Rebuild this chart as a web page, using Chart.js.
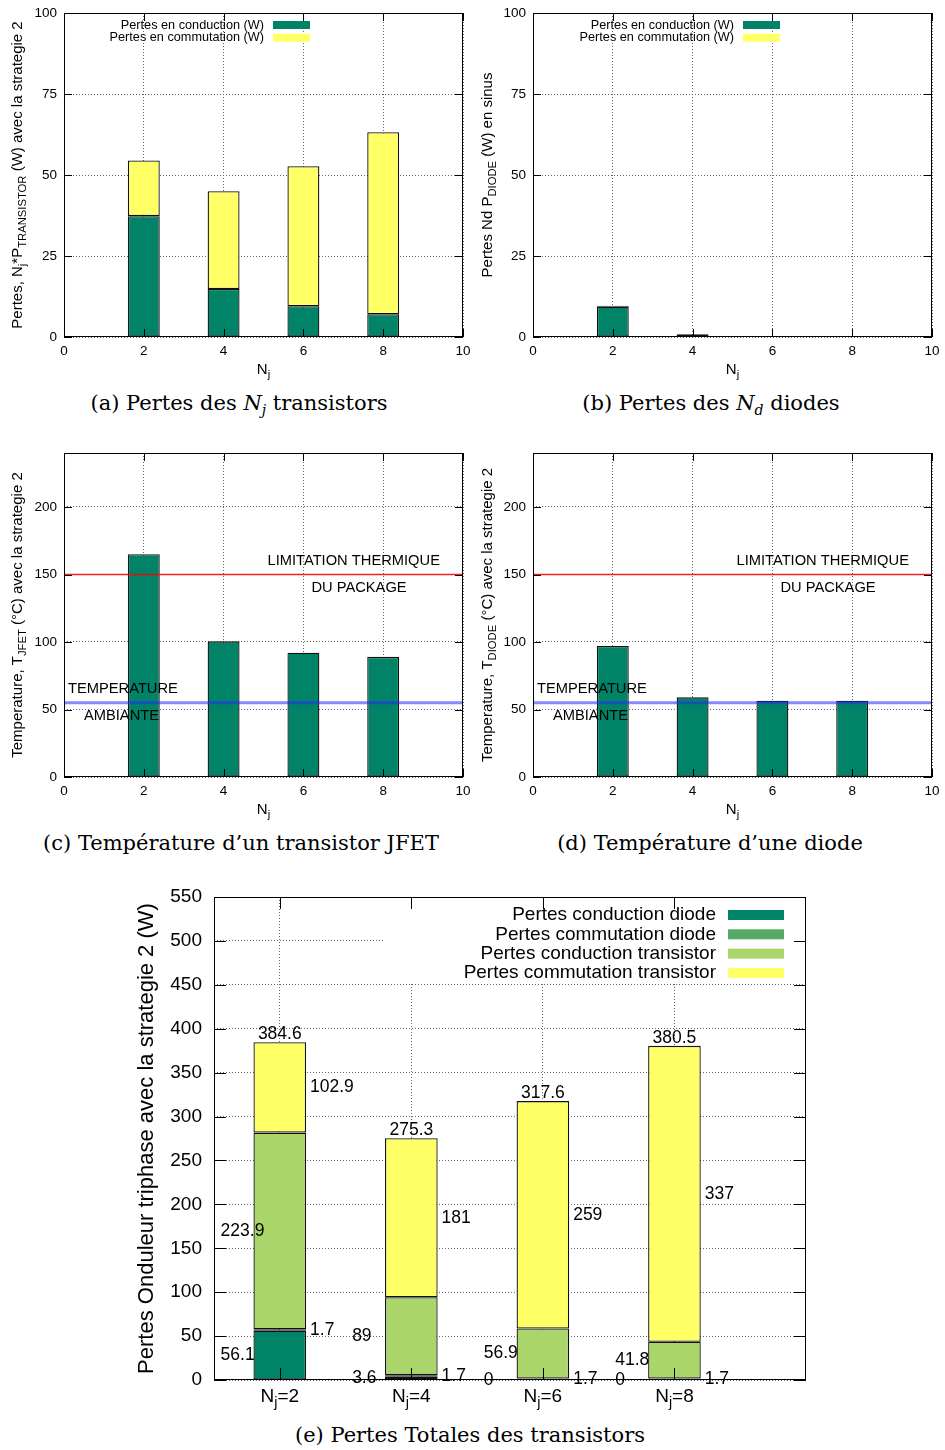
<!DOCTYPE html>
<html lang="fr">
<head>
<meta charset="UTF-8">
<title>Pertes et températures - stratégie 2</title>
<script src="https://cdn.jsdelivr.net/npm/chart.js@4.4.1/dist/chart.umd.min.js"></script>
<style>
  body { margin: 0; background: #fff; }
  #page { position: relative; width: 945px; height: 1450px; background: #fff; }
  canvas { position: absolute; }
  .legende {
    position: absolute;
    font-family: "DejaVu Serif", "Liberation Serif", serif;
    font-size: 21px;
    color: #000;
    white-space: nowrap;
    transform: translateX(-50%);
  }
  .legende sub { font-size: 14px; }
</style>
</head>
<body>
<div id="page">
  <canvas id="gA" width="470" height="390" style="left:0;top:0"></canvas>
  <canvas id="gB" width="470" height="390" style="left:470px;top:0"></canvas>
  <canvas id="gC" width="470" height="390" style="left:0;top:440px"></canvas>
  <canvas id="gD" width="470" height="390" style="left:470px;top:440px"></canvas>
  <canvas id="gE" width="945" height="540" style="left:0;top:880px"></canvas>

  <div class="legende" style="left:239px;top:391px">(a) Pertes des <i>N<sub>j</sub></i> transistors</div>
  <div class="legende" style="left:711px;top:391px">(b) Pertes des <i>N<sub>d</sub></i> diodes</div>
  <div class="legende" style="left:241px;top:831px">(c) Température d’un transistor JFET</div>
  <div class="legende" style="left:710px;top:831px">(d) Température d’une diode</div>
  <div class="legende" style="left:470px;top:1423px">(e) Pertes Totales des transistors</div>
</div>

<script>
  // Valeurs
  const nj = [2, 4, 6, 8];

  // (a) pertes des Nj transistors (W)
  const transCond = [37.3, 14.8, 9.5, 7.0];
  const transComm = [17.2, 30.2, 43.2, 56.2];

  // (b) pertes des Nd diodes (W)
  const diodeCond = [9.35, 0.6, 0, 0];
  const diodeComm = [0.28, 0.28, 0.28, 0.28];

  // (c) et (d) températures (°C)
  const tempJfet = [165, 100.5, 92, 89];
  const tempDiode = [97, 59, 56.5, 56.5];
  const tempLimite = 150;
  const tempAmbiante = 55;

  // (e) pertes totales de l'onduleur (W)
  const totCondDiode = [56.1, 3.6, 0, 0];
  const totCommDiode = [1.7, 1.7, 1.7, 1.7];
  const totCondTrans = [223.9, 89, 56.9, 41.8];
  const totCommTrans = [102.9, 181, 259, 337];
  const totTotal = [384.6, 275.3, 317.6, 380.5];

  const FONT = '"Liberation Sans", Arial, sans-serif';
  const VERT_FONCE = '#008366';
  const VERT_MOYEN = '#55AA66';
  const VERT_CLAIR = '#AAD56A';
  const JAUNE = '#FFFF66';

  // texte avec indices (k = 1 indice, 0 normal)
  function drawRich(ctx, parts, x, y, size, align) {
    const fontOf = k => `${k ? size * 0.75 : size}px ${FONT}`;
    const widths = parts.map(([t, k]) => { ctx.font = fontOf(k); return ctx.measureText(t).width; });
    const total = widths.reduce((a, b) => a + b, 0);
    let cx = align === 'center' ? x - total / 2 : align === 'right' ? x - total : x;
    ctx.textAlign = 'left';
    ctx.textBaseline = 'middle';
    ctx.fillStyle = '#000';
    parts.forEach(([t, k], i) => {
      ctx.font = fontOf(k);
      ctx.fillText(t, cx, y + k * size * 0.32);
      cx += widths[i];
    });
  }

  function line(ctx, x1, y1, x2, y2) {
    ctx.beginPath();
    ctx.moveTo(x1, y1);
    ctx.lineTo(x2, y2);
    ctx.stroke();
  }

  // cadre, graduations internes, titres, légende façon gnuplot
  function cadreGnuplot(cfg) {
    return {
      id: 'cadreGnuplot',
      afterDraw(chart) {
        const { ctx, chartArea: a, scales } = chart;
        const sx = scales.x, sy = scales.y;
        ctx.save();

        (cfg.refLines || []).forEach(r => {
          const py = sy.getPixelForValue(r.value);
          ctx.strokeStyle = r.color;
          ctx.lineWidth = r.width;
          line(ctx, a.left, py, a.right, py);
        });

        (cfg.notes || []).forEach(n => {
          ctx.font = `${cfg.noteSize}px ${FONT}`;
          ctx.fillStyle = '#000';
          ctx.textAlign = 'left';
          ctx.textBaseline = 'middle';
          ctx.fillText(n.text, sx.getPixelForValue(n.x), sy.getPixelForValue(n.y));
        });

        // étiquettes de valeurs (e)
        if (cfg.valueLabels) {
          ctx.font = `${cfg.valueSize}px ${FONT}`;
          ctx.fillStyle = '#000';
          ctx.textAlign = 'left';
          ctx.textBaseline = 'middle';
          const cumul = chart.data.datasets[0].data.map(() => 0);
          chart.data.datasets.forEach(ds => {
            ds.data.forEach((p, i) => {
              const mid = cumul[i] + p.y / 2;
              cumul[i] += p.y;
              const dx = ds.labelSide === 'left' ? -0.45 : 0.23;
              ctx.fillText(String(p.y), sx.getPixelForValue(p.x + dx), sy.getPixelForValue(mid));
            });
          });
          ctx.textAlign = 'center';
          ctx.textBaseline = 'bottom';
          cfg.totals.forEach((v, i) => {
            ctx.fillText(v.toFixed(1), sx.getPixelForValue(i), sy.getPixelForValue(v) + 1);
          });
        }

        // légende
        const L = cfg.legend;
        if (L) {
          if (L.box) {
            ctx.fillStyle = '#fff';
            ctx.fillRect(L.box[0], L.box[1], L.box[2], L.box[3]);
          }
          chart.data.datasets.forEach((ds, i) => {
            const yy = L.y + i * L.dy;
            ctx.font = `${L.size}px ${FONT}`;
            ctx.fillStyle = '#000';
            ctx.textAlign = 'right';
            ctx.textBaseline = 'middle';
            ctx.fillText(ds.label, L.textRight, yy);
            ctx.fillStyle = ds.backgroundColor;
            ctx.fillRect(L.swatchLeft, yy - L.swatchH / 2, L.swatchW, L.swatchH);
          });
        }

        // graduations internes
        ctx.strokeStyle = '#000';
        ctx.lineWidth = 1;
        const tl = cfg.tickLen;
        sy.ticks.forEach(t => {
          const py = Math.round(sy.getPixelForValue(t.value)) + 0.5;
          line(ctx, a.left, py, a.left + tl, py);
          line(ctx, a.right, py, a.right - tl, py);
        });
        sx.ticks.forEach(t => {
          const px = Math.round(sx.getPixelForValue(t.value)) + 0.5;
          line(ctx, px, a.bottom, px, a.bottom - tl);
          line(ctx, px, a.top, px, a.top + tl);
        });
        ctx.strokeRect(Math.round(a.left) + 0.5, Math.round(a.top) + 0.5,
          Math.round(a.width) - 1, Math.round(a.height) - 1);

        // étiquettes Nj=.. de (e)
        if (cfg.njTicks) {
          nj.forEach((n, i) => {
            drawRich(ctx, [['N', 0], ['j', 1], ['=' + n, 0]], sx.getPixelForValue(i), a.bottom + 17, cfg.tickSize, 'center');
          });
        }

        // titres d'axes
        ctx.save();
        ctx.translate(cfg.yTitleX, (a.top + a.bottom) / 2);
        ctx.rotate(-Math.PI / 2);
        drawRich(ctx, cfg.yTitle, 0, 0, cfg.titleSize, 'center');
        ctx.restore();
        if (cfg.xTitle) {
          drawRich(ctx, cfg.xTitle, (a.left + a.right) / 2, a.bottom + 33, cfg.titleSize, 'center');
        }
        ctx.restore();
      }
    };
  }

  function echelles(o) {
    return {
      x: {
        type: 'linear',
        offset: false,
        min: o.xMin, max: o.xMax,
        stacked: true,
        afterFit: s => { s.height = o.xH; s.paddingLeft = 0; s.paddingRight = 0; },
        afterBuildTicks: o.xTicks ? s => { s.ticks = o.xTicks.map(v => ({ value: v })); } : undefined,
        ticks: {
          stepSize: 2,
          display: !o.hideXTicks,
          font: { family: FONT, size: o.tickSize },
          color: '#000',
          padding: 6
        },
        grid: { color: '#666', lineWidth: 1, drawTicks: false, offset: false },
        border: { display: false, dash: [1, 2] }
      },
      y: {
        min: 0, max: o.yMax,
        stacked: true,
        afterFit: s => { s.width = o.yW; s.paddingTop = 0; s.paddingBottom = 0; },
        ticks: {
          stepSize: o.yStep,
          includeBounds: false,
          font: { family: FONT, size: o.tickSize },
          color: '#000',
          padding: o.yPad
        },
        grid: { color: '#666', lineWidth: 1, drawTicks: false },
        border: { display: false, dash: [1, 2] }
      }
    };
  }

  function barres(label, values, xs, color, extra) {
    return Object.assign({
      label: label,
      data: values.map((v, i) => ({ x: xs[i], y: v })),
      backgroundColor: color,
      borderColor: '#111',
      borderWidth: 1.3,
      borderSkipped: false,
      barPercentage: 0.4,
      categoryPercentage: 1
    }, extra || {});
  }

  function graphique(id, datasets, ech, cadre, pad) {
    new Chart(document.getElementById(id), {
      type: 'bar',
      data: { datasets: datasets },
      options: {
        responsive: false,
        animation: false,
        devicePixelRatio: 1,
        layout: { padding: pad },
        plugins: { legend: { display: false }, tooltip: { enabled: false } },
        scales: echelles(ech)
      },
      plugins: [cadreGnuplot(cadre)]
    });
  }

  const petitesEch = (yMax, yW) => ({ xMin: 0, xMax: 10, xH: 53, yW: yW, yMax: yMax,
    yStep: yMax === 100 ? 25 : 50, tickSize: 13.5, yPad: 7 });
  const legendePetite = { textRight: 264, swatchLeft: 273, swatchW: 37, swatchH: 8, y: 25, dy: 12.7, size: 12.7 };
  const lignesTemp = [
    { value: tempLimite, color: 'rgba(255,0,0,0.85)', width: 1.5 },
    { value: tempAmbiante, color: 'rgba(40,40,255,0.55)', width: 3 }
  ];
  const notesTemp = [
    { text: 'LIMITATION THERMIQUE', x: 5.1, y: 160 },
    { text: 'DU PACKAGE', x: 6.2, y: 140 },
    { text: 'TEMPERATURE', x: 0.1, y: 65 },
    { text: 'AMBIANTE', x: 0.5, y: 45 }
  ];
  const titreNj = [['N', 0], ['j', 1]];

  // (a)
  graphique('gA', [
    barres('Pertes en conduction (W)', transCond, nj, VERT_FONCE),
    barres('Pertes en commutation (W)', transComm, nj, JAUNE)
  ], petitesEch(100, 64), {
    legend: legendePetite, tickLen: 8, titleSize: 15, yTitleX: 18,
    yTitle: [['Pertes, N', 0], ['j', 1], ['*P', 0], ['TRANSISTOR', 1], [' (W) avec la strategie 2', 0]],
    xTitle: titreNj
  }, { top: 13, right: 7, left: 0, bottom: 0 });

  // (b)
  graphique('gB', [
    barres('Pertes en conduction (W)', diodeCond, nj, VERT_FONCE),
    barres('Pertes en commutation (W)', diodeComm, nj, JAUNE)
  ], petitesEch(100, 63), {
    legend: legendePetite, tickLen: 8, titleSize: 15, yTitleX: 18,
    yTitle: [['Pertes Nd P', 0], ['DIODE', 1], [' (W) en sinus', 0]],
    xTitle: titreNj
  }, { top: 13, right: 8, left: 0, bottom: 0 });

  // (c)
  graphique('gC', [
    barres('Temperature JFET', tempJfet, nj, VERT_FONCE)
  ], petitesEch(240, 64), {
    refLines: lignesTemp, notes: notesTemp, noteSize: 14.7,
    tickLen: 8, titleSize: 15, yTitleX: 18,
    yTitle: [['Temperature, T', 0], ['JFET', 1], [' (°C) avec la strategie 2', 0]],
    xTitle: titreNj
  }, { top: 13, right: 7, left: 0, bottom: 0 });

  // (d)
  graphique('gD', [
    barres('Temperature diode', tempDiode, nj, VERT_FONCE)
  ], petitesEch(240, 63), {
    refLines: lignesTemp, notes: notesTemp, noteSize: 14.7,
    tickLen: 8, titleSize: 15, yTitleX: 18,
    yTitle: [['Temperature, T', 0], ['DIODE', 1], [' (°C) avec la strategie 2', 0]],
    xTitle: titreNj
  }, { top: 13, right: 8, left: 0, bottom: 0 });

  // (e)
  const idx = nj.map((_, i) => i);
  graphique('gE', [
    barres('Pertes conduction diode', totCondDiode, idx, VERT_FONCE, { labelSide: 'left' }),
    barres('Pertes commutation diode', totCommDiode, idx, VERT_MOYEN, { labelSide: 'right' }),
    barres('Pertes conduction transistor', totCondTrans, idx, VERT_CLAIR, { labelSide: 'left' }),
    barres('Pertes commutation transistor', totCommTrans, idx, JAUNE, { labelSide: 'right' })
  ], {
    xMin: -0.5, xMax: 4, xH: 40, xTicks: idx, hideXTicks: true,
    yW: 214, yMax: 550, yStep: 50, tickSize: 19, yPad: 12
  }, {
    legend: { box: [385, 18, 421, 85], textRight: 716, swatchLeft: 728, swatchW: 56, swatchH: 10, y: 35, dy: 19.3, size: 19 },
    valueLabels: true, valueSize: 17.5, totals: totTotal,
    njTicks: true, tickSize: 19,
    tickLen: 12, titleSize: 22, yTitleX: 147,
    yTitle: [['Pertes Onduleur triphase avec la strategie 2 (W)', 0]]
  }, { top: 17, right: 139, left: 0, bottom: 0 });
</script>
</body>
</html>
